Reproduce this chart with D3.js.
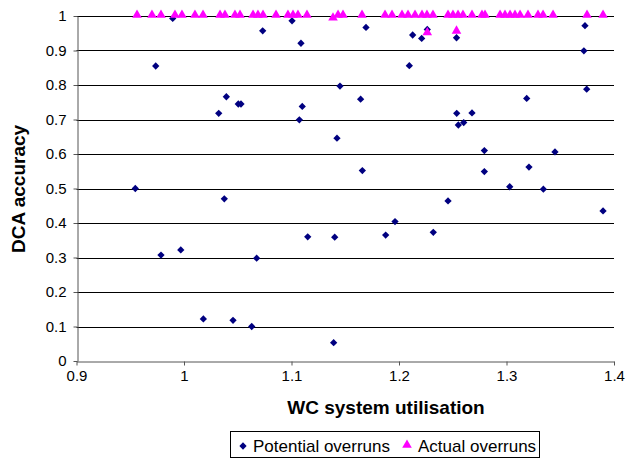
<!DOCTYPE html>
<html><head><meta charset="utf-8">
<script src="https://cdn.jsdelivr.net/npm/d3@7"></script>
<style>body{margin:0;background:#fff}svg{display:block;font-family:"Liberation Sans",Arial,sans-serif}</style>
</head><body><svg id="c" width="626" height="458"></svg>
<script>
const potentialX = [0.9547,0.9737,0.9786,0.9970,1.0180,1.0323,1.0394,1.0375,1.0456,1.0505,1.0530,1.0630,1.0676,1.0732,1.1005,1.1088,1.1073,1.1100,1.1151,1.1392,1.1402,1.1423,1.1451,1.1643,1.1659,1.1693,1.1876,1.1963,1.2096,1.2127,1.2211,1.2263,1.2319,1.2456,1.2535,1.2537,1.2552,1.2602,1.2679,1.2794,1.2794,1.3030,1.3188,1.3209,1.3343,1.3451,1.3730,1.3720,1.3746,1.3898,0.9895];
const potentialY = [0.500,0.855,0.307,0.322,0.122,0.718,0.766,0.470,0.118,0.745,0.745,0.100,0.298,0.957,0.986,0.921,0.699,0.738,0.360,0.053,0.359,0.646,0.797,0.759,0.552,0.967,0.365,0.404,0.856,0.945,0.935,0.961,0.373,0.464,0.937,0.718,0.684,0.691,0.719,0.610,0.549,0.505,0.761,0.562,0.498,0.606,0.972,0.899,0.788,0.435,0.993];
const actualX = [0.9563,0.9702,0.9786,0.9916,0.9981,1.0102,1.0177,1.0335,1.0381,1.0474,1.0521,1.0642,1.0688,1.0735,1.0856,1.0967,1.1014,1.1060,1.1144,1.1386,1.1433,1.1479,1.1656,1.1870,1.1935,1.2028,1.2084,1.2149,1.2214,1.2260,1.2316,1.2456,1.2502,1.2549,1.2595,1.2679,1.2772,1.2800,1.2940,1.2986,1.3033,1.3079,1.3126,1.3200,1.3293,1.3340,1.3433,1.3749,1.3898,1.2263,1.2535];
const actualY = [1,1,1,1,1,1,1,1,1,1,1,1,1,1,1,1,1,1,1,0.992,1,1,1,1,1,1,1,1,1,1,1,1,1,1,1,1,1,1,1,1,1,1,1,1,1,1,1,1,1,0.949,0.954];
const xTicks = [0.9,1,1.1,1.2,1.3,1.4];
const yTicks = [0,0.1,0.2,0.3,0.4,0.5,0.6,0.7,0.8,0.9,1];
const seriesNames = ["Potential overruns","Actual overruns"];
const xTitle = "WC system utilisation", yTitle = "DCA accuracy";

const svg = d3.select("#c");
const x = d3.scaleLinear().domain([0.9,1.4]).range([76.5,614]);
const y = d3.scaleLinear().domain([0,1]).range([361,16]);
const FF = "Liberation Sans, Arial, sans-serif";

// gridlines
svg.append("g").selectAll("line").data(yTicks.filter(d=>d>0)).join("line")
  .attr("x1",x(0.9)).attr("x2",x(1.4)).attr("y1",d=>Math.round(y(d))+0.5).attr("y2",d=>Math.round(y(d))+0.5)
  .attr("stroke","#000").attr("stroke-width",1);

// axes
const xa = svg.append("g").attr("transform",`translate(0,${Math.round(y(0))+0.5})`)
  .call(d3.axisBottom(x).tickValues(xTicks).tickFormat(d=>d3.format("")(d)).tickSize(4).tickSizeOuter(0));
xa.select(".domain").attr("stroke","#555");
xa.selectAll(".tick line").attr("stroke","#555");
xa.selectAll("text").attr("font-size",15).attr("fill","#000").attr("font-family",FF).attr("y",9).attr("dy","0.71em");
const ya = svg.append("g").attr("transform",`translate(${Math.round(x(0.9))+0.5},0)`)
  .call(d3.axisLeft(y).tickValues(yTicks).tickFormat(d=>d3.format("")(d)).tickSize(4).tickSizeOuter(0));
ya.select(".domain").attr("stroke","#555");
ya.selectAll(".tick line").attr("stroke","#555");
ya.selectAll("text").attr("font-size",15).attr("fill","#000").attr("font-family",FF).attr("x",-11);

// titles
svg.append("text").attr("x",386).attr("y",414).attr("text-anchor","middle")
  .attr("font-weight","bold").attr("font-size",19).text(xTitle);
svg.append("text").attr("transform","translate(25,189) rotate(-90)").attr("text-anchor","middle")
  .attr("font-weight","bold").attr("font-size",19).text(yTitle);

const diamond = d3.symbol().type(d3.symbolDiamond2).size(34);
const tri = d3.symbol().type(d3.symbolTriangle).size(40);

const potential = potentialX.map((v,i)=>({x:v,y:potentialY[i]}));
const actual = actualX.map((v,i)=>({x:v,y:actualY[i]}));

svg.append("g").selectAll("path").data(potential).join("path")
  .attr("transform",d=>`translate(${x(d.x)},${y(d.y)})`).attr("d",diamond).attr("fill","#000080");
svg.append("g").selectAll("path").data(actual).join("path")
  .attr("transform",d=>`translate(${x(d.x)},${y(d.y)-1})`).attr("d",tri).attr("fill","#ff00ff");

// legend
const lg = svg.append("g");
lg.append("rect").attr("x",230.5).attr("y",431.5).attr("width",309).attr("height",26).attr("fill","#fff").attr("stroke","#000");
lg.append("path").attr("transform","translate(243,446)").attr("d",diamond).attr("fill","#000080");
lg.append("text").attr("x",253).attr("y",452).attr("font-size",17).text(seriesNames[0]);
lg.append("path").attr("transform","translate(407,445)").attr("d",tri).attr("fill","#ff00ff");
lg.append("text").attr("x",418).attr("y",452).attr("font-size",17).text(seriesNames[1]);
</script></body></html>
